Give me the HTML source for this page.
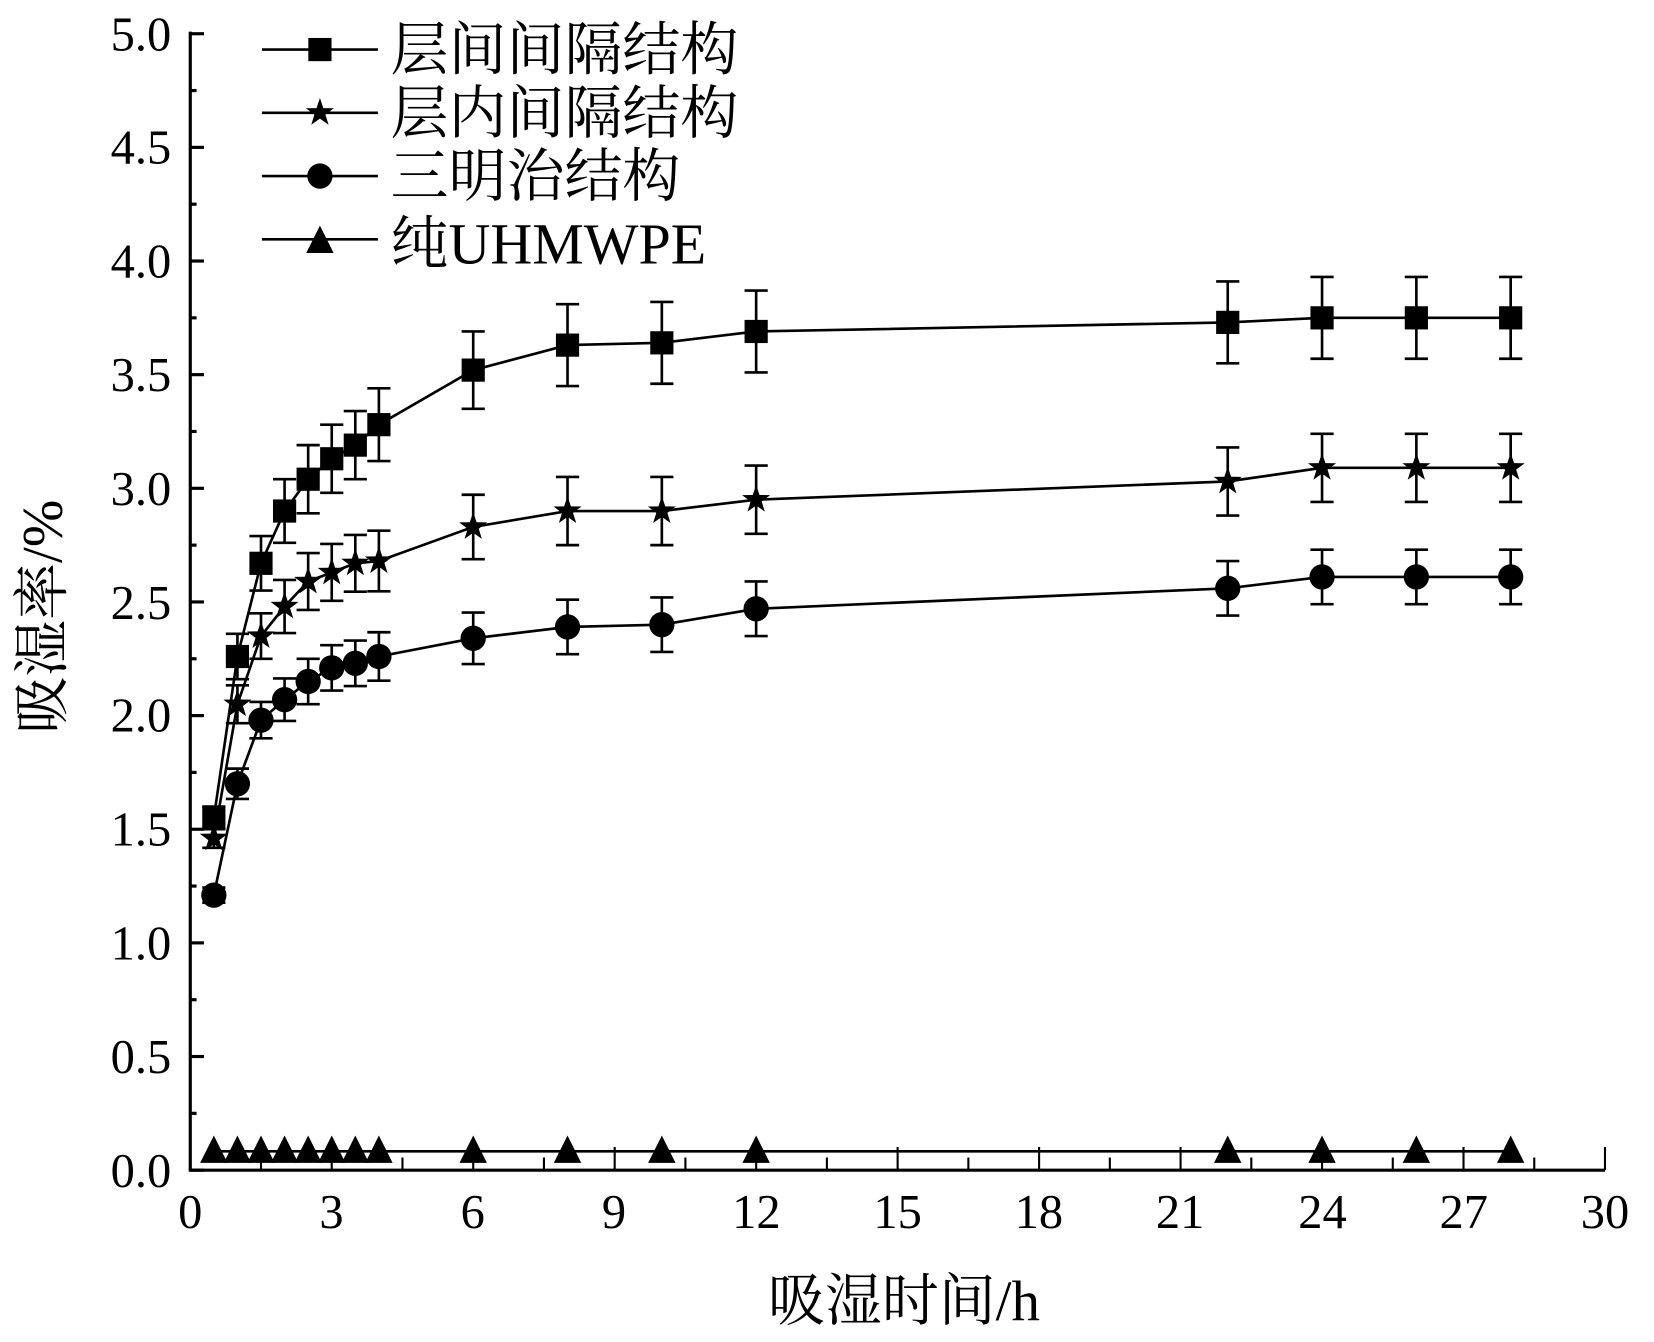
<!DOCTYPE html>
<html><head><meta charset="utf-8"><style>
html,body{margin:0;padding:0;background:#fff;}
svg{display:block;}
text{font-family:"Liberation Serif","Noto Serif CJK SC","Noto Sans CJK SC",serif;fill:#000;}
</style></head><body>
<svg id="s" width="1654" height="1342" viewBox="0 0 1568 1273" xmlns="http://www.w3.org/2000/svg">
<g font-size="46" text-anchor="end">
<text x="162" y="1126">0.0</text>
<text x="162" y="1018">0.5</text>
<text x="162" y="910">1.0</text>
<text x="162" y="802">1.5</text>
<text x="162" y="694">2.0</text>
<text x="162" y="587">2.5</text>
<text x="162" y="479">3.0</text>
<text x="162" y="371">3.5</text>
<text x="162" y="263">4.0</text>
<text x="162" y="155">4.5</text>
<text x="162" y="48">5.0</text>
</g>
<g font-size="46" text-anchor="middle">
<text x="180" y="1165">0</text>
<text x="314" y="1165">3</text>
<text x="448" y="1165">6</text>
<text x="582" y="1165">9</text>
<text x="717" y="1165">12</text>
<text x="851" y="1165">15</text>
<text x="985" y="1165">18</text>
<text x="1119" y="1165">21</text>
<text x="1254" y="1165">24</text>
<text x="1388" y="1165">27</text>
<text x="1522" y="1165">30</text>
</g>
<text x="857" y="1252" font-size="54" text-anchor="middle">吸湿时间/h</text>
<text transform="translate(58,585) rotate(-90)" font-size="54" text-anchor="middle">吸湿率/%</text>
<g font-size="55">
<text x="370" y="66">层间间隔结构</text>
<text x="370" y="126">层内间隔结构</text>
<text x="370" y="186">三明治结构</text>
<text x="370" y="250">纯UHMWPE</text>
</g>
<g id="g" stroke="#000" fill="#000"></g>
</svg>
<script>
var g=document.getElementById('g'),NS='http://www.w3.org/2000/svg';
function el(t,a){var e=document.createElementNS(NS,t);for(var k in a)e.setAttribute(k,a[k]);g.appendChild(e);return e;}
function X(t){return 180+t*44.733;}function Y(v){return 1110-v*215.6;}
el('line',{x1:180,y1:30,x2:180,y2:1110,'stroke-width':3});
el('line',{x1:178.5,y1:1110,x2:1522,y2:1110,'stroke-width':3});
for(var i=0;i<=20;i++){var y=Y(i*0.25);el('line',{x1:180,y1:y,x2:i%2?186:193,y2:y,'stroke-width':3});}
for(var i=1;i<=20;i++){var x=X(i*1.5);el('line',{x1:x,y1:1110,x2:x,y2:i%2?1098:1088,'stroke-width':2});}
var T=[0.5,1,1.5,2,2.5,3,3.5,4,6,8,10,12,22,24,26,28];
var S=[[1.55,2.26,2.67,2.9,3.04,3.13,3.19,3.28,3.52,3.63,3.64,3.69,3.73,3.75,3.75,3.75],0.18];
var R=[[1.46,2.05,2.35,2.48,2.59,2.63,2.67,2.68,2.83,2.9,2.9,2.95,3.03,3.09,3.09,3.09],0.15];
var C=[[1.21,1.7,1.98,2.07,2.15,2.21,2.23,2.26,2.34,2.39,2.40,2.47,2.56,2.61,2.61,2.61],0.12];
var E=[0.05,0.1,0.12,0.14,0.15,0.15,0.15,0.16,0.17,0.18,0.18,0.18,0.18,0.18,0.18,0.18];
function marker(type,x,y){
 if(type=='s')el('rect',{x:x-11,y:y-11,width:22,height:22,stroke:'none'});
 else if(type=='c')el('circle',{cx:x,cy:y,r:12,stroke:'none'});
 else if(type=='t')el('polygon',{points:(x-13)+','+(y+11)+' '+(x+13)+','+(y+11)+' '+x+','+(y-15),stroke:'none'});
 else{var p=[];for(var k=0;k<10;k++){var r=k%2?5.5:14,a=-Math.PI/2+k*Math.PI/5;p.push((x+r*Math.cos(a))+','+(y+r*Math.sin(a)));}el('polygon',{points:p.join(' '),stroke:'none'});}
}
function series(d,type,errs){
 var pts=T.map(function(t,i){return X(t)+','+Y(d[0][i]);}).join(' ');
 el('polyline',{points:pts,fill:'none','stroke-width':2.5});
 T.forEach(function(t,i){var x=X(t),e=d[1]*(errs?E[i]/0.18:1);if(errs){var y1=Y(d[0][i]+e),y2=Y(d[0][i]-e);
  el('line',{x1:x,y1:y1,x2:x,y2:y2,'stroke-width':2.5});el('line',{x1:x-11,y1:y1,x2:x+11,y2:y1,'stroke-width':2.5});el('line',{x1:x-11,y1:y2,x2:x+11,y2:y2,'stroke-width':2.5});}
  marker(type,x,Y(d[0][i]));});
}
series(S,'s',1);series(R,'r',1);series(C,'c',1);
series([T.map(function(){return 0.083}),0],'t',0);
[[47,'s'],[107,'r'],[167,'c'],[227,'t']].forEach(function(l){el('line',{x1:248,y1:l[0],x2:358,y2:l[0],'stroke-width':2.5});marker(l[1],303,l[0]+(l[1]=='t'?2:0));});
</script>
</body></html>
